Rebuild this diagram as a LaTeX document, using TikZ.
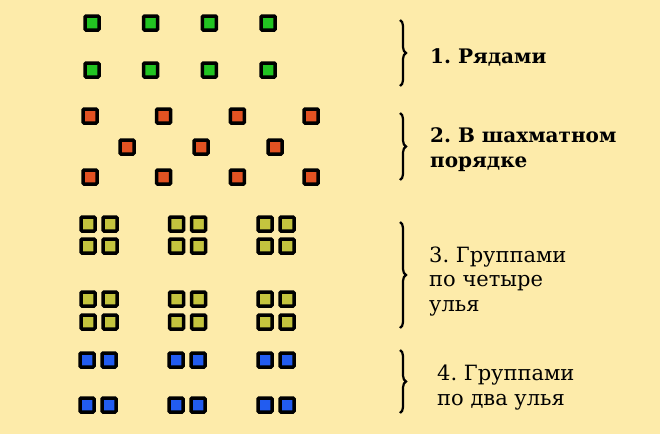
\documentclass[tikz,border=0pt]{standalone}
\usepackage{fontspec}
\setmainfont{DejaVu Serif}
\frenchspacing
\usetikzlibrary{decorations.pathreplacing}
\definecolor{paper}{RGB}{253,235,170}
\definecolor{hgreen}{RGB}{34,196,34}
\definecolor{hred}{RGB}{226,82,34}
\definecolor{holive}{RGB}{196,196,62}
\definecolor{hblue}{RGB}{34,92,240}
\tikzset{
  hive/.style={draw=black, line width=3.5pt, minimum size=14pt, inner sep=0pt, rounded corners=1pt},
  note/.style={anchor=base west, inner sep=0pt, align=left, font=\fontsize{21}{24.5}\selectfont},
  bnote/.style={note, font=\fontsize{20}{25}\selectfont\bfseries},
  curly/.style={decorate, decoration={brace, amplitude=6pt}, line width=2.2pt}
}

\begin{document}
\begin{tikzpicture}[x=1pt, y=-1pt]
\fill[paper] (0,0) rectangle (660,434);
\foreach \i in {0,...,3}
{
  \foreach \j in {0,1}
  {
    \node[hive, fill=hgreen] (g\i\j) at ({92+58.7*\i}, {23+47*\j}) {};
  }
}
\foreach \i in {0,...,3}
{
  \node[hive, fill=hred] (ra\i) at ({90+73.7*\i}, 116) {};
  \node[hive, fill=hred] (rc\i) at ({90+73.7*\i}, 177) {};
}
\foreach \i in {0,1,2}
{
  \node[hive, fill=hred] (rb\i) at ({127+74*\i}, 147) {};
}
\foreach \g in {0,1,2}
{
  \foreach \r in {224,246,299,322}
  {
    \node[hive, fill=holive] (o\g\r a) at ({88+88.5*\g}, \r) {};
    \node[hive, fill=holive] (o\g\r b) at ({110+88.5*\g}, \r) {};
  }
  \foreach \r in {360,405}
  {
    \node[hive, fill=hblue] (u\g\r a) at ({87+89*\g}, \r) {};
    \node[hive, fill=hblue] (u\g\r b) at ({109+89*\g}, \r) {};
  }
}
\coordinate (b1t) at (400,20);
\coordinate (b1b) at (400,86);
\coordinate (b2t) at (400,113);
\coordinate (b2b) at (400,180);
\coordinate (b3t) at (400,222);
\coordinate (b3b) at (400,328);
\coordinate (b4t) at (400,350);
\coordinate (b4b) at (400,413);
\foreach \k in {1,...,4}
{
  \draw[curly] (b\k t) -- (b\k b);
}
\node[bnote] (t1) at (430,63) {1. Рядами};
\node[bnote] (t2) at (430,167) {2. В шахматном\\порядке};
\node[note] (t3) at (429,311) {3. Группами\\по четыре\\улья};
\node[note] (t4) at (437,405) {4. Группами\\по два улья};
\end{tikzpicture}
\end{document}
